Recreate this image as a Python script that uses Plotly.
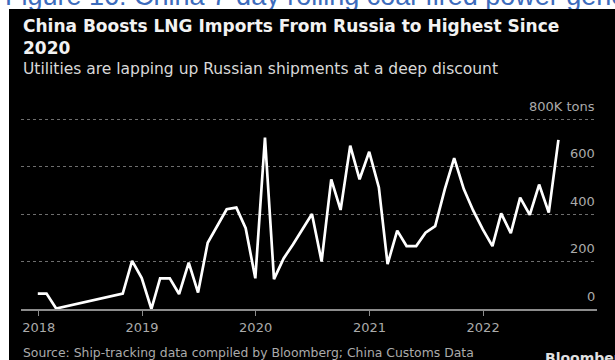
import pandas as pd
import plotly.graph_objects as go

W, H = 615, 360

# Monthly LNG imports from Russia (thousand tons), plotted at month end
months = pd.date_range("2018-01-31", "2022-08-31", freq="ME")
imports_kt = [
    65, 65, 2, None, None, None, None, None, None, 65, 203, 130,       # 2018
    0, 129, 129, 63, 195, 69, 279, 354, 420, 427, 340, 129,            # 2019
    722, 126, 213, 272, 337, 400, 200, 546, 417, 688, 546, 662,        # 2020
    512, 189, 330, 265, 265, 321, 349, 505, 635, 505, 415, 335,        # 2021
    265, 403, 319, 469, 396, 524, 406, 712,                            # 2022
]

x_tick_dates = ["2018-02-03", "2019-01-01", "2020-01-01", "2021-01-01", "2022-01-01"]
x_tick_labels = ["2018", "2019", "2020", "2021", "2022"]
y_tick_values = [0, 200, 400, 600, 800]
y_tick_labels = ["0", "200", "400", "600", "800K tons"]

title_text = "China Boosts LNG Imports From Russia to Highest Since<br>2020"
subtitle_text = "Utilities are lapping up Russian shipments at a deep discount"
source_text = "Source: Ship-tracking data compiled by Bloomberg; China Customs Data"
brand_text = "Bloomberg"
caption_text = "Figure 16: China 7-day rolling coal-fired power generation"

FONT = "DejaVu Sans"
LABEL_GREY = "#ababab"


def px_x(p):
    return p / W


def px_y(p):
    return 1 - p / H


fig = go.Figure()

fig.add_trace(go.Scatter(
    x=months, y=imports_kt, mode="lines", connectgaps=True,
    line=dict(color="#ffffff", width=2.7),
    hoverinfo="skip", showlegend=False,
))

# document caption strip above the chart panel (clipped by its own subplot)
fig.add_trace(go.Scatter(
    x=[5], y=[11.2], mode="text", text=[caption_text],
    textposition="middle right", cliponaxis=True,
    textfont=dict(family="Liberation Sans", size=27, color="#3d6cbc"),
    xaxis="x2", yaxis="y2", hoverinfo="skip", showlegend=False,
))

# value labels sit just above their gridlines, right-aligned at the panel edge
y_label_annotations = [
    dict(text=lab, x=px_x(597), y=val, xref="paper", yref="y",
         xanchor="right", yanchor="middle", yshift=13, showarrow=False,
         font=dict(family=FONT, size=13, color=LABEL_GREY))
    for val, lab in zip(y_tick_values, y_tick_labels)
]

fig.update_layout(
    width=W, height=H,
    margin=dict(l=0, r=0, t=0, b=0),
    paper_bgcolor="#ffffff",
    plot_bgcolor="rgba(0,0,0,0)",
    showlegend=False,
    xaxis=dict(
        type="date",
        domain=[px_x(21), px_x(597)],
        range=["2017-12-08", "2023-01-02"],
        tickvals=x_tick_dates, ticktext=x_tick_labels,
        showgrid=False, zeroline=False,
        showline=True, linecolor="#8c8c8c", linewidth=2,
        ticks="outside", ticklen=5, tickcolor="#8c8c8c", tickwidth=1,
        tickfont=dict(family=FONT, size=13, color=LABEL_GREY),
        fixedrange=True,
    ),
    yaxis=dict(
        domain=[px_y(309), px_y(109.5)],
        range=[0, 840],
        side="right",
        tickvals=y_tick_values,
        showticklabels=False,
        showgrid=True, gridcolor="#6e6e6e", gridwidth=1, griddash="dot",
        zeroline=False, showline=False, ticks="",
        fixedrange=True,
    ),
    xaxis2=dict(domain=[0, 1], range=[0, W], visible=False, anchor="y2", fixedrange=True),
    yaxis2=dict(domain=[px_y(9), 1], range=[0, 9], visible=False, anchor="x2", fixedrange=True),
    shapes=[dict(
        type="rect", xref="paper", yref="paper",
        x0=px_x(9), x1=1, y0=0, y1=px_y(9),
        fillcolor="#000000", line=dict(width=0), layer="below",
    )],
    annotations=[
        dict(text=title_text, x=px_x(21), y=px_y(14), xref="paper", yref="paper",
             xanchor="left", yanchor="top", align="left", showarrow=False,
             font=dict(family=FONT, size=17, color="#f2f2f2", weight="bold")),
        dict(text=subtitle_text, x=px_x(21), y=px_y(58), xref="paper", yref="paper",
             xanchor="left", yanchor="top", align="left", showarrow=False,
             font=dict(family=FONT, size=15.5, color="#d8d8d8")),
        dict(text=source_text, x=px_x(21), y=px_y(343), xref="paper", yref="paper",
             xanchor="left", yanchor="top", align="left", showarrow=False,
             font=dict(family=FONT, size=12.4, color=LABEL_GREY)),
        dict(text=brand_text, x=px_x(543), y=px_y(348), xref="paper", yref="paper",
             xanchor="left", yanchor="top", align="left", showarrow=False,
             font=dict(family=FONT, size=14, color="#e0e0e0", weight="bold")),
    ] + y_label_annotations,
)

fig.write_html("out.html")
